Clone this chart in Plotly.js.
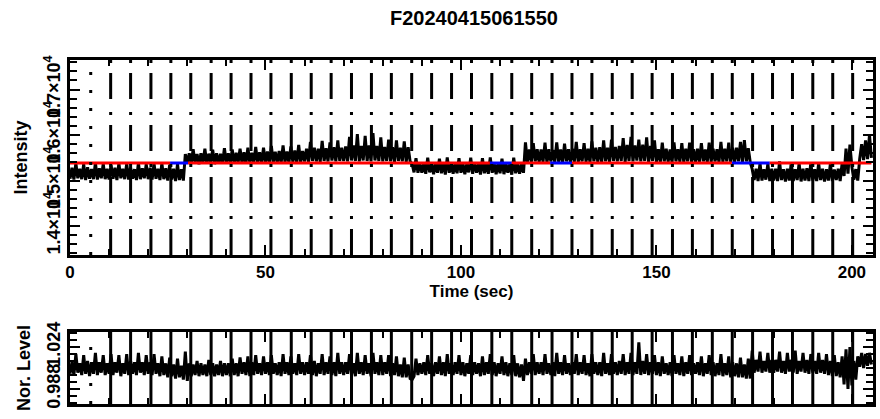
<!DOCTYPE html>
<html><head><meta charset="utf-8">
<script src="https://cdn.plot.ly/plotly-3.0.1.min.js"></script>
<style>html,body{margin:0;padding:0;background:#fff}#chart{width:880px;height:419px}</style>
</head><body><div id="chart"></div>
<script>
const chartTitle = 'F20240415061550';
const sampleStep = 0.5; // seconds between samples

const intensity = [
15040,15280,15020,15380,15050,15260,15030,15360,15010,15290,15040,15250,15030,15390,15020,15270,15050,15370,15030,15260,
15020,15350,15040,15280,15010,15380,15050,15260,15030,15370,15020,15290,15040,15250,15010,15390,15030,15270,15050,15360,
15030,15280,15020,15370,15040,15260,15010,15380,15030,15270,15000,15350,15020,15260,14990,15360,15010,15250,15000,15580,
15380,15600,15370,15690,15390,15580,15360,15600,15380,15700,15370,15590,15390,15680,15360,15600,15380,15590,15370,15710,
15390,15600,15380,15680,15370,15610,15390,15700,15380,15620,15370,15720,15390,15610,15380,15740,15400,15620,15380,15720,
15390,15640,15380,15760,15400,15630,15390,15650,15380,15770,15400,15640,15390,15750,15410,15660,15390,15780,15400,15650,
15420,15700,15410,15850,15430,15720,15420,15700,15410,15870,15430,15710,15420,15840,15440,15730,15420,15880,15430,15720,
15430,15750,15420,15960,15440,15770,15430,16020,15420,15760,15440,15980,15430,15770,15420,16040,15440,15760,15430,15950,
15420,15740,15430,15900,15420,15730,15410,15880,15430,15720,15420,15860,15410,15730,15420,15370,15180,15490,15170,15380,
15170,15380,15150,15500,15180,15370,15140,15390,15170,15480,15160,15380,15130,15510,15170,15370,15150,15390,15160,15490,
15170,15380,15140,15370,15180,15500,15150,15390,15170,15380,15130,15490,15160,15370,15150,15510,15170,15380,15140,15390,
15160,15480,15140,15380,15170,15370,15130,15500,15160,15380,15150,15370,15170,15840,15410,15680,15400,15820,15420,15690,
15400,15680,15410,15830,15390,15690,15420,15670,15400,15840,15410,15680,15390,15810,15420,15690,15400,15700,15410,15850,
15400,15690,15420,15820,15410,15700,15400,15860,15420,15720,15410,15730,15400,15880,15420,15720,15410,15900,15430,15740,
15420,15760,15430,15930,15410,15780,15430,15960,15420,15770,15440,15900,15420,15790,15430,15950,15410,15760,15430,15880,
15410,15690,15400,15830,15420,15700,15410,15680,15400,15840,15420,15690,15410,15820,15400,15700,15420,15830,15410,15690,
15400,15700,15410,15820,15420,15680,15400,15830,15410,15700,15420,15690,15400,15850,15410,15700,15420,15830,15400,15720,
15410,15720,15420,15850,15410,15890,15420,15710,15400,15250,15010,15260,14990,15380,15000,15250,15020,15370,14990,15260,
15000,15260,14990,15420,15010,15250,14980,15260,15000,15400,14990,15250,15010,15380,14980,15260,15000,15270,14990,15390,
15000,15250,14990,15380,15010,15260,14980,15250,15000,15370,14990,15240,15010,15260,14990,15380,15100,15700,15150,15790,
15300,15020,15250,15000,15480,15800,15450,15880,15470,16000,15500
];

const norLevel = [
1.001,1.011,1.000,1.018,1.002,1.010,1.000,1.017,1.001,1.012,0.999,1.011,1.001,1.019,1.000,1.011,1.002,1.017,1.000,1.010,
1.001,1.018,1.000,1.011,1.002,1.017,0.999,1.010,1.001,1.018,1.000,1.012,1.001,1.011,1.000,1.019,1.002,1.011,1.000,1.017,
1.001,1.011,1.000,1.018,1.001,1.010,0.999,1.016,1.000,1.010,0.998,1.015,0.999,1.009,0.997,1.014,0.998,1.008,0.996,1.020,
0.995,1.010,0.999,1.009,1.000,1.012,0.999,1.010,1.000,1.009,0.999,1.013,1.000,1.010,0.999,1.009,1.000,1.012,0.999,1.010,
1.000,1.010,0.999,1.014,1.000,1.010,0.999,1.015,1.001,1.011,1.000,1.016,0.999,1.011,1.000,1.017,1.001,1.010,1.000,1.016,
1.001,1.011,1.000,1.017,1.001,1.010,1.000,1.011,0.999,1.018,1.001,1.011,1.000,1.016,1.001,1.010,1.000,1.018,1.001,1.011,
1.000,1.011,1.001,1.017,1.000,1.012,0.999,1.010,1.001,1.018,1.000,1.011,1.001,1.016,1.000,1.011,0.999,1.019,1.001,1.011,
1.000,1.011,1.001,1.018,1.000,1.010,0.999,1.019,1.001,1.011,1.000,1.017,1.001,1.010,0.999,1.019,1.001,1.011,1.000,1.017,
1.000,1.011,1.001,1.017,0.999,1.010,1.000,1.016,0.999,1.009,0.998,1.015,0.998,1.009,0.997,0.996,0.999,1.014,1.000,1.010,
1.001,1.011,1.000,1.017,1.001,1.010,0.999,1.011,1.001,1.016,1.000,1.011,0.999,1.018,1.001,1.010,1.000,1.011,1.001,1.017,
1.000,1.011,0.999,1.010,1.001,1.017,1.000,1.011,1.001,1.010,0.999,1.016,1.000,1.011,1.001,1.018,1.000,1.011,0.999,1.010,
1.001,1.016,1.000,1.011,0.999,1.010,1.000,1.017,0.999,1.010,0.998,1.009,0.995,1.014,1.000,1.011,1.001,1.018,1.000,1.011,
1.001,1.011,1.000,1.018,1.001,1.010,1.000,1.011,0.999,1.019,1.001,1.011,1.000,1.017,1.001,1.010,1.000,1.011,1.001,1.018,
1.000,1.011,1.001,1.017,1.000,1.010,0.999,1.018,1.001,1.011,1.000,1.011,0.999,1.019,1.001,1.010,1.000,1.018,1.001,1.011,
1.000,1.012,1.001,1.018,1.000,1.011,1.001,1.019,1.000,1.011,1.001,1.028,1.000,1.012,1.001,1.018,1.000,1.011,1.001,1.017,
1.000,1.011,0.999,1.016,1.001,1.010,1.000,1.011,0.999,1.017,1.001,1.010,1.000,1.016,0.999,1.011,1.001,1.017,1.000,1.010,
1.001,1.011,1.000,1.016,0.999,1.010,1.001,1.017,1.000,1.011,0.999,1.010,1.000,1.018,0.999,1.010,1.000,1.016,0.998,1.011,
0.999,1.010,0.998,1.015,0.998,1.009,0.997,1.014,0.997,1.021,1.002,1.013,1.003,1.020,1.002,1.012,1.003,1.019,1.002,1.013,
1.002,1.013,1.003,1.020,1.002,1.012,1.001,1.019,1.003,1.013,1.002,1.021,1.001,1.012,1.003,1.019,1.002,1.013,1.001,1.018,
1.002,1.012,1.001,1.019,1.002,1.013,1.001,1.018,1.000,1.012,0.999,1.017,0.999,1.011,0.998,1.016,0.992,1.022,0.988,1.024,
0.991,1.012,0.996,1.016,1.007,1.019,1.006,1.018,1.008,1.019,1.009
];

const meanLevel = 15385;
const blueStart = [25.6, 107.4, 122.8, 169.3];
const blueEnd   = [30.2, 113.0, 128.4, 179.0];
const meanEnd = 205.0;

const frameTimes = [5.3,10.4,15.5,20.7,25.8,30.9,36.1,41.2,46.3,51.4,56.6,61.7,66.8,72.0,77.1,82.2,87.4,92.5,97.6,102.7,
107.9,113.0,118.1,123.3,128.4,133.5,138.7,143.8,148.9,154.1,159.2,164.3,169.4,174.6,179.7,184.8,190.0,195.1,200.2];

const timeRange = [0, 205.4];
const intRange = [13363, 17649];
const intTickVals = [14000, 15000, 16000, 17000];
const intTickText = ['1.4×10<sup>4</sup>', '1.5×10<sup>4</sup>', '1.6×10<sup>4</sup>', '1.7×10<sup>4</sup>'];
const norRange = [0.9751, 1.0369];
const norTickVals = [0.988, 1.024];
const norTickText = ['0.988', '1.024'];

const times = intensity.map((_, i) => i * sampleStep);

// red/blue mean lines
const blueX = [], blueY = [], redX = [], redY = [];
let s = 0;
for (let i = 0; i < blueStart.length; i++) {
  blueX.push(blueStart[i], blueEnd[i], null); blueY.push(meanLevel, meanLevel, null);
  redX.push(s, blueStart[i], null); redY.push(meanLevel, meanLevel, null);
  s = blueEnd[i];
}
redX.push(s, meanEnd); redY.push(meanLevel, meanLevel);

const traces = [
  {x: times, y: intensity, xaxis:'x', yaxis:'y', mode:'lines', line:{color:'#000', width:3}, hoverinfo:'skip'},
  {x: blueX, y: blueY, xaxis:'x', yaxis:'y', mode:'lines', line:{color:'#0000ff', width:3}, hoverinfo:'skip'},
  {x: redX, y: redY, xaxis:'x', yaxis:'y', mode:'lines', line:{color:'#ff0000', width:3}, hoverinfo:'skip'},
  {x: times, y: norLevel, xaxis:'x2', yaxis:'y2', mode:'lines', line:{color:'#000', width:3}, hoverinfo:'skip'}
];

const shapes = [];
frameTimes.forEach((t, i) => {
  shapes.push({type:'line', xref:'x', yref:'y domain', x0:t, x1:t, y0:0, y1:1,
    line:{color:'#000', width:3, dash: i === 0 ? '3px,15px' : '26px,10px,3px,13px'}});
  shapes.push({type:'line', xref:'x2', yref:'y2 domain', x0:t, x1:t, y0:0, y1:1,
    line:{color:'#000', width:3, dash: i === 0 ? '3px,15px' : 'solid'}});
});

const fontFam = 'Liberation Sans, Arial, Helvetica, sans-serif';
const tf = {family:fontFam, size:18, color:'#000', weight:'bold'};
const axisCommon = {
  showline:true, linecolor:'#000', linewidth:3, mirror:'ticks',
  ticks:'inside', tickcolor:'#000', tickwidth:2, ticklen:10,
  showgrid:false, zeroline:false,
  tickfont:tf
};

const layout = {
  width:880, height:419,
  margin:{l:70, r:7, t:0, b:0},
  paper_bgcolor:'#fff', plot_bgcolor:'#fff',
  showlegend:false,
  font:tf,
  title:{text:chartTitle, xref:'container', yref:'container', x:0.5386, y:0.958,
         xanchor:'center', yanchor:'middle', font:{family:fontFam, size:20, color:'#000', weight:'bold'}},
  xaxis: Object.assign({}, axisCommon, {
    domain:[0,1], anchor:'y', range:timeRange, tickmode:'linear', tick0:0, dtick:50,
    minor:{tickmode:'linear', tick0:0, dtick:10, ticklen:6, tickwidth:2, tickcolor:'#000', ticks:'inside'},
    tickfont:{family:fontFam, size:17, color:'#000', weight:'bold'},
    title:{text:'Time (sec)', standoff:1, font:{family:fontFam, size:17, color:'#000', weight:'bold'}}
  }),
  yaxis: Object.assign({}, axisCommon, {
    domain:[0.3914, 0.8568], anchor:'x', range:intRange, tickmode:'array',
    tickvals:intTickVals, ticktext:intTickText, tickangle:-90,
    minor:{tickmode:'linear', tick0:14000, dtick:200, ticklen:7, tickwidth:2, tickcolor:'#000', ticks:'inside'},
    title:{text:'Intensity', standoff:9, font:tf}
  }),
  xaxis2: Object.assign({}, axisCommon, {
    domain:[0,1], anchor:'y2', range:timeRange, tickmode:'linear', tick0:0, dtick:50,
    showticklabels:false,
    minor:{tickmode:'linear', tick0:0, dtick:10, ticklen:6, tickwidth:2, tickcolor:'#000', ticks:'inside'}
  }),
  yaxis2: Object.assign({}, axisCommon, {
    domain:[0.0358, 0.2076], anchor:'x2', range:norRange, tickmode:'array',
    tickvals:norTickVals, ticktext:norTickText, tickangle:-90,
    minor:{tickmode:'linear', tick0:0.976, dtick:0.006, ticklen:7, tickwidth:2, tickcolor:'#000', ticks:'inside'},
    title:{text:'Nor. Level', standoff:9, font:tf}
  }),
  shapes: shapes
};

Plotly.newPlot('chart', traces, layout, {staticPlot:true, displayModeBar:false});
</script>
</body></html>
